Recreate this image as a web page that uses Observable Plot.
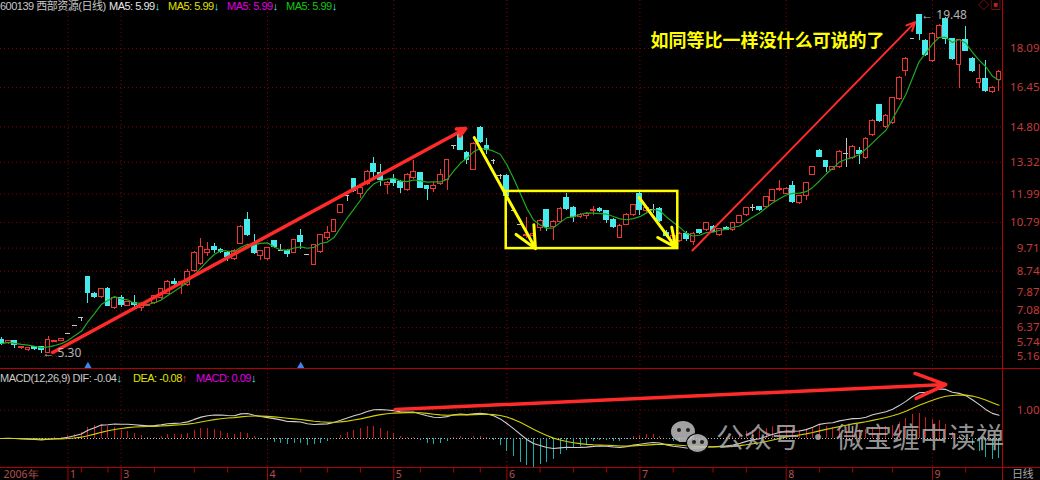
<!DOCTYPE html>
<html><head><meta charset="utf-8">
<script src="https://cdn.jsdelivr.net/npm/d3@7"></script>
<script src="https://cdn.jsdelivr.net/npm/@observablehq/plot@0.6"></script>
<style>
html,body{margin:0;padding:0;background:#000;width:1040px;height:480px;overflow:hidden;}
#wrap{position:relative;width:1040px;height:480px;font-family:"Liberation Sans","Noto Sans CJK SC",sans-serif;}
#wrap svg{display:block;}
.ov{position:absolute;white-space:nowrap;font-size:11px;line-height:12px;letter-spacing:-0.5px;}
.hl{position:absolute;left:0;width:1040px;height:1px;background:#b40000;}
.vl{position:absolute;top:0;height:480px;width:1px;background:#b40000;left:1002px;}
.wm{position:absolute;white-space:nowrap;font-family:"Noto Sans CJK SC",sans-serif;font-size:28px;line-height:30px;color:rgba(175,175,175,0.85);}
.bub{position:absolute;border-radius:50%;background:rgba(190,190,190,0.85);}
.eye{position:absolute;width:4px;height:4px;border-radius:50%;background:#222;}
</style></head><body><div id="wrap"></div>
<script>
// ---- data (daily candles, 2006, trading-day index 0..150) ----
const open = [5.85,5.72,5.80,5.52,5.42,5.55,5.55,5.32,5.78,5.82,
6.13,6.46,6.78,8.50,7.78,7.65,8.00,7.20,7.60,7.30,
7.40,7.20,7.28,7.40,7.60,7.80,8.30,8.15,8.15,8.75,
9.05,9.50,9.77,9.65,9.50,9.25,9.90,10.90,9.90,9.40,
9.25,10.00,9.62,9.60,9.50,10.20,9.45,9.00,9.55,10.15,
10.40,11.20,11.90,12.60,12.00,12.40,13.25,12.85,12.35,12.60,
12.50,12.15,12.65,12.85,12.30,12.20,12.40,12.55,14.00,14.50,
13.70,13.00,14.75,14.00,13.40,12.75,12.75,11.30,10.70,10.20,
10.20,10.55,11.30,10.60,10.80,11.80,11.40,11.00,11.05,11.25,
11.35,11.25,10.90,10.15,10.70,11.10,12.00,11.25,11.35,11.35,
10.35,10.05,10.00,10.30,9.95,10.45,10.45,10.60,10.25,10.55,
10.45,10.78,11.10,11.40,11.42,11.42,11.70,12.15,12.00,12.30,
11.60,11.90,12.80,13.80,13.35,13.00,13.10,13.70,13.50,13.80,
13.50,14.45,15.70,14.80,14.95,15.95,17.15,18.50,19.48,18.40,
17.55,18.55,19.35,18.47,17.40,18.45,17.65,16.65,16.80,16.25,
16.75];
const high = [5.95,5.82,5.85,5.56,5.52,5.58,5.60,6.00,5.85,5.92,
6.13,6.46,6.78,8.52,7.85,8.02,8.05,7.65,7.72,7.48,
7.70,7.32,7.33,7.72,8.02,8.35,8.45,8.32,8.80,9.55,
10.10,9.95,9.90,9.70,9.55,9.65,10.65,11.20,10.30,9.62,
9.72,10.05,9.85,9.65,10.08,10.50,9.45,9.85,10.28,10.60,
10.92,11.52,11.92,12.62,12.30,12.95,13.50,13.20,12.50,12.80,
12.55,12.85,13.40,12.90,12.35,12.45,13.00,13.45,14.02,14.55,
13.75,14.15,14.80,14.30,13.45,12.80,12.80,11.30,10.70,11.00,
10.35,10.90,11.35,10.85,11.40,12.00,11.45,11.15,11.20,11.45,
11.40,11.30,10.95,10.70,11.15,11.55,12.05,11.45,11.55,11.40,
10.45,10.25,10.35,10.40,10.35,10.50,10.80,10.65,10.55,10.60,
10.80,11.10,11.42,11.55,11.45,11.88,12.18,12.55,12.25,12.50,
11.92,12.45,13.15,13.85,13.40,13.15,13.80,14.30,14.00,13.95,
14.35,15.10,15.75,15.30,16.05,16.90,17.70,18.50,19.48,18.45,
18.75,19.10,19.40,18.50,18.45,19.00,17.70,17.40,17.60,16.50,
17.15];
const low = [5.62,5.68,5.50,5.47,5.35,5.40,5.30,5.30,5.75,5.80,
6.13,6.46,6.62,7.37,7.60,7.60,7.28,7.15,7.20,7.25,
7.10,7.05,7.25,7.35,7.55,7.75,8.15,7.75,8.10,8.70,
9.00,9.35,9.50,9.50,9.15,9.20,9.85,10.20,9.45,9.20,
9.20,9.70,9.55,9.30,9.48,9.65,9.45,8.98,9.50,10.05,
10.35,11.15,11.65,12.05,11.80,12.35,12.60,12.30,11.95,12.30,
12.00,12.10,12.60,12.20,11.70,12.05,12.35,12.15,13.85,13.80,
13.20,12.95,14.10,13.65,13.20,12.60,11.85,11.30,10.70,10.10,
10.15,10.40,10.40,10.05,10.75,11.30,10.80,10.95,10.90,11.10,
11.20,10.75,10.55,10.10,10.65,11.05,11.10,11.20,11.15,10.80,
10.15,9.95,9.95,10.00,9.80,10.30,10.40,10.35,10.20,10.45,
10.40,10.75,11.05,11.25,11.25,11.40,11.65,12.10,11.95,11.60,
11.55,11.70,12.75,13.50,12.90,12.95,13.05,13.10,13.45,13.20,
13.45,14.40,15.00,14.75,14.90,15.90,16.90,18.45,18.43,17.75,
17.50,18.50,18.25,17.60,16.40,17.95,17.10,16.40,16.25,16.20,
16.30];
const close = [5.70,5.80,5.63,5.54,5.50,5.48,5.45,5.85,5.82,5.90,
6.13,6.46,6.78,7.82,7.65,8.00,7.30,7.60,7.32,7.45,
7.32,7.30,7.32,7.70,8.00,8.27,8.20,8.27,8.70,9.50,
9.75,9.65,9.62,9.55,9.35,9.60,10.60,10.25,9.50,9.60,
9.70,9.75,9.62,9.45,10.05,9.95,9.45,9.82,10.25,10.35,
10.90,11.50,11.90,12.10,12.25,12.90,12.90,12.55,12.45,12.45,
12.25,12.80,12.90,12.25,12.20,12.30,12.80,13.40,14.00,13.85,
13.40,14.10,14.15,13.85,13.40,12.75,11.90,11.30,10.70,10.25,
10.30,10.85,10.60,10.80,11.35,11.35,11.00,11.10,11.15,11.30,
11.25,10.90,10.60,10.65,11.10,11.50,11.30,11.40,11.35,10.85,
10.20,10.20,10.30,10.10,10.30,10.35,10.75,10.40,10.50,10.48,
10.75,11.07,11.40,11.40,11.30,11.85,12.15,12.20,12.20,11.65,
11.90,12.45,13.10,13.55,13.10,13.10,13.75,13.70,13.95,13.65,
14.30,15.05,15.05,15.25,16.00,16.85,17.65,18.50,18.72,17.80,
18.72,19.05,18.50,17.63,18.43,18.00,17.15,16.80,16.30,16.45,
17.10];

// axis ticks / labels
const priceTicks = [5.16,5.74,6.37,7.08,7.87,8.74,9.71,10.79,11.99,13.32,14.80,16.45,18.09];
const macdTicks = [1.00];
const monthDays = [0,10,18,40,59,76,96,118,140];
const monthLabels = ["2006年","1","3","4","5","6","7","8","9"];
const weekDays = [12,16,23,29,34,45,49,54,63,68,72,81,86,91,101,107,112,123,128,134,145];
const eventDays = [13,45];

// annotation anchors in data units (day index, price / macd value)
const redArrows = [{x1:7.7,y1:5.33,x2:69.8,y2:14.73,w:3.5},{x1:103.9,y1:9.61,x2:137.4,y2:19.2,w:2}];
const yellowArrows = [{x1:71.1,y1:14.35,x2:80.3,y2:9.69},{x1:95.9,y1:11.83,x2:101.4,y2:9.74}];
const yellowBox = [{x1:75.9,x2:101.7,y1:9.69,y2:12.09}];
const noteText = [{x:97.6,y:18.40,t:"如同等比一样没什么可说的了"}];
const macdArrow = [{x1:59.2,y1:1.02,x2:142,y2:1.9}];

// ---- build ----
const rows = close.map((c,i)=>({i,o:open[i],h:high[i],l:low[i],c}));
const upR = rows.filter(d=>d.c>d.o), dnR = rows.filter(d=>d.c<d.o), flR = rows.filter(d=>d.c===d.o);
const RED="#f03434", CYAN="#46eaea", GREY="#c4c4c4", GRID="#8a0000";
const xDomain=[-0.15,150.53];
const hw=0.36;

function ema(arr,n){const a=2/(n+1);const out=[];arr.forEach((v,i)=>out.push(i?a*v+(1-a)*out[i-1]:v));return out;}
const e12=ema(close,12), e26=ema(close,26);
const dif=e12.map((v,i)=>v-e26[i]);
const dea=ema(dif,9);
const mrows=rows.map((d,i)=>({i,dif:dif[i],dea:dea[i],m:2*(dif[i]-dea[i])}));

const lowest = d3.least(rows,d=>d.l), highest = d3.greatest(rows,d=>d.h);

const main = Plot.plot({
  width:1040,height:369,marginLeft:0,marginRight:38,marginTop:0,marginBottom:0,
  style:{background:"#000",overflow:"visible"},
  x:{domain:xDomain,axis:null},
  y:{domain:[4.614,20.106],axis:null},
  marks:[
    Plot.ruleY(priceTicks,{stroke:GRID,strokeDasharray:"1,3"}),
    Plot.ruleX(monthDays.slice(1),{stroke:GRID,strokeDasharray:"1,3"}),
    Plot.ruleX(upR,{x:"i",y1:"l",y2:"h",stroke:RED,shapeRendering:"crispEdges"}),
    Plot.ruleX(dnR,{x:"i",y1:"l",y2:"h",stroke:CYAN,shapeRendering:"crispEdges"}),
    Plot.ruleX(flR,{x:"i",y1:"l",y2:"h",stroke:GREY,shapeRendering:"crispEdges"}),
    Plot.rect(upR,{x1:d=>d.i-hw,x2:d=>d.i+hw,y1:"o",y2:"c",fill:"#000",stroke:RED,shapeRendering:"crispEdges"}),
    Plot.rect(dnR,{x1:d=>d.i-hw,x2:d=>d.i+hw,y1:"o",y2:"c",fill:CYAN,stroke:CYAN,shapeRendering:"crispEdges"}),
    Plot.ruleY(flR,{y:"c",x1:d=>d.i-hw,x2:d=>d.i+hw,stroke:GREY,shapeRendering:"crispEdges"}),
    Plot.lineY(rows,Plot.windowY({k:5,anchor:"end"},{x:"i",y:"c",stroke:"#1fa81f",strokeWidth:1.2})),
    Plot.rect(yellowBox,{x1:"x1",x2:"x2",y1:"y1",y2:"y2",fill:"none",stroke:"#ffff00",strokeWidth:2.5}),
    Plot.arrow(yellowArrows,{x1:"x1",y1:"y1",x2:"x2",y2:"y2",stroke:"#ffff00",strokeWidth:3,headLength:12,headAngle:50}),
    Plot.arrow(redArrows,{x1:"x1",y1:"y1",x2:"x2",y2:"y2",stroke:"#ff2a2a",strokeWidth:d=>d.w,headLength:14,headAngle:50}),
    Plot.text(noteText,{x:"x",y:"y",text:"t",textAnchor:"start",fill:"#ffff00",stroke:"#000",strokeWidth:3,fontSize:18,fontWeight:"bold",fontFamily:"Noto Sans CJK SC"}),
    Plot.text([lowest],{x:"i",y:"l",text:d=>"← "+d.l.toFixed(2),textAnchor:"start",dx:1,fill:"#b4b4b4",fontSize:12}),
    Plot.text([highest],{x:"i",y:"h",text:d=>"← "+d.h.toFixed(2),textAnchor:"start",dx:2,fill:"#b4b4b4",fontSize:12}),
    Plot.dot(eventDays,{x:d=>d,frameAnchor:"bottom",dy:-3,symbol:"triangle",fill:"#3d85e6",r:3}),
    Plot.text(priceTicks,{y:d=>d,text:d=>d.toFixed(2),frameAnchor:"right",dx:37,textAnchor:"end",fill:"#c03c3c",fontSize:11.5})
  ]
});

const macd = Plot.plot({
  width:1040,height:99,marginLeft:0,marginRight:38,marginTop:0,marginBottom:0,
  style:{background:"#000",overflow:"visible"},
  x:{domain:xDomain,axis:null},
  y:{domain:[-1.056,2.43],axis:null},
  marks:[
    Plot.ruleY(macdTicks,{stroke:GRID,strokeDasharray:"1,3"}),
    Plot.ruleY([0],{stroke:"#bdbdbd",strokeDasharray:"1,2"}),
    Plot.ruleX(monthDays.slice(1),{stroke:GRID,strokeDasharray:"1,3"}),
    Plot.ruleX(mrows.filter(d=>d.m>=0),{x:"i",y1:0,y2:"m",stroke:"#d01818",shapeRendering:"crispEdges"}),
    Plot.ruleX(mrows.filter(d=>d.m<0),{x:"i",y1:0,y2:"m",stroke:"#1aaeae",shapeRendering:"crispEdges"}),
    Plot.line(mrows,{x:"i",y:"dif",stroke:"#cfcfcf",strokeWidth:1.1}),
    Plot.line(mrows,{x:"i",y:"dea",stroke:"#d2d200",strokeWidth:1.1}),
    Plot.arrow(macdArrow,{x1:"x1",y1:"y1",x2:"x2",y2:"y2",stroke:"#ff2a2a",strokeWidth:3.5,headLength:14,headAngle:45}),
    Plot.text(macdTicks,{y:d=>d,text:d=>d.toFixed(2),frameAnchor:"right",dx:37,textAnchor:"end",fill:"#c03c3c",fontSize:11.5})
  ]
});

const axis = Plot.plot({
  width:1040,height:12,marginLeft:0,marginRight:38,marginTop:0,marginBottom:0,
  style:{background:"#000",overflow:"visible"},
  x:{domain:xDomain,axis:null},
  y:{domain:[0,1],axis:null},
  marks:[
    Plot.ruleX(monthDays.slice(1),{stroke:"#b40000"}),
    Plot.ruleX(weekDays,{y1:0.62,y2:1,stroke:"#b40000"}),
    Plot.text(monthDays.map((d,k)=>({d,t:monthLabels[k]})),{x:"d",text:"t",textAnchor:"start",dx:2,dy:0.5,fill:"#b45050",fontSize:10.5})
  ]
});

const wrap=document.getElementById("wrap");
wrap.append(main,macd,axis);
function ov(html,left,top,color,cls){const e=document.createElement("div");e.className=cls||"ov";e.style.left=left+"px";e.style.top=top+"px";if(color)e.style.color=color;e.innerHTML=html;wrap.appendChild(e);return e;}
const h1=document.createElement("div");h1.className="hl";h1.style.top="368px";wrap.appendChild(h1);
const h2=document.createElement("div");h2.className="hl";h2.style.top="467px";wrap.appendChild(h2);
const v1=document.createElement("div");v1.className="vl";wrap.appendChild(v1);
// legends (text + arrow in one group)
const DN='<span style="color:#46eaea">↓</span>', UP='<span style="color:#f03434">↑</span>';
ov("600139 西部资源(日线)",0,0,"#c8c8c8");
ov("MA5: 5.99"+DN,109,0,"#e6e6e6");
ov("MA5: 5.99"+DN,168,0,"#e0e000");
ov("MA5: 5.99"+DN,227,0,"#e000e0");
ov("MA5: 5.99"+DN,286,0,"#10c810");
ov("◇",978,-1,"#c02020"); ov("▣",990,-1,"#c02020");
ov("MACD(12,26,9) DIF: -0.04"+DN,0,372,"#c8c8c8");
ov("DEA: -0.08"+UP,133,372,"#e0e000");
ov("MACD: 0.09"+DN,196,372,"#e000e0");
ov("日线",1012,468,"#a8a8a8");
// watermark
const b1=document.createElement("div");b1.className="bub";Object.assign(b1.style,{left:"671px",top:"421px",width:"24px",height:"21px"});wrap.appendChild(b1);
const b2=document.createElement("div");b2.className="bub";Object.assign(b2.style,{left:"686px",top:"433px",width:"21px",height:"18px",border:"1.5px solid #000"});wrap.appendChild(b2);
[[677,428],[686,428],[692,440],[700,440]].forEach(([l,t])=>{const e=document.createElement("div");e.className="eye";e.style.left=l+"px";e.style.top=t+"px";wrap.appendChild(e);});
ov('公众号<span style="margin:0 4px">・</span>微宝缠中读禅',716,421,null,"wm");
</script></body></html>
